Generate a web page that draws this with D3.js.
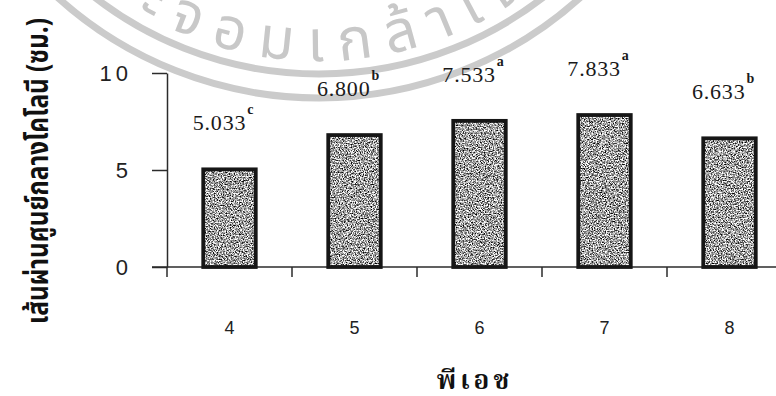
<!DOCTYPE html>
<html>
<head>
<meta charset="utf-8">
<script src="https://cdn.jsdelivr.net/npm/d3@7"></script>
<style>
  html, body { margin: 0; padding: 0; background: #fff; }
  svg { display: block; }
</style>
</head>
<body>
<svg id="chart" width="776" height="396"></svg>
<script>
// Colony diameter by pH
const categories = ["4", "5", "6", "7", "8"];
const diameters = [5.033, 6.800, 7.533, 7.833, 6.633];
const groups = ["c", "b", "a", "a", "b"];
const yTickValues = [0, 5, 10];
const xTitle = "พีเอช";
const yTitle = "เส้นผ่านศูนย์กลางโคโลนี (ซม.)";
const sealText = "พระจอมเกล้าเจ้าคุณทหาร";

const svg = d3.select("#chart");
const plot = { left: 167, right: 792, top: 73, bottom: 267 };

const x = d3.scaleBand()
  .domain(categories)
  .range([plot.left, plot.right])
  .paddingInner(0.58)
  .paddingOuter(0.29);
const y = d3.scaleLinear().domain([0, 10]).range([plot.bottom, plot.top]);

// stippled grey fill for the bars
const defs = svg.append("defs");
const grain = defs.append("filter")
  .attr("id", "grain")
  .attr("color-interpolation-filters", "sRGB")
  .attr("x", 0).attr("y", 0).attr("width", 1).attr("height", 1);
grain.append("feTurbulence")
  .attr("type", "fractalNoise")
  .attr("baseFrequency", 0.76)
  .attr("numOctaves", 2)
  .attr("seed", 7)
  .attr("result", "noise");
grain.append("feColorMatrix")
  .attr("in", "noise")
  .attr("type", "matrix")
  .attr("values", "2.5 0 0 0 -0.62  2.5 0 0 0 -0.62  2.5 0 0 0 -0.62  0 0 0 0 1")
  .attr("result", "grey");
grain.append("feComposite")
  .attr("in", "grey")
  .attr("in2", "SourceGraphic")
  .attr("operator", "in");

// faint seal in the background: two rings and lettering
const seal = { cx: 319, cy: -292 };
const ringRadii = [366, 390];
const sealG = svg.append("g").attr("class", "seal");
sealG.selectAll("circle")
  .data(ringRadii)
  .join("circle")
  .attr("cx", seal.cx).attr("cy", seal.cy).attr("r", d => d)
  .attr("fill", "none")
  .attr("stroke", "#cbcbcb")
  .attr("stroke-width", 7);

const textR = 353;
const pt = a => [seal.cx + textR * Math.sin(a), seal.cy + textR * Math.cos(a)];
const a0 = -60 * Math.PI / 180, a1 = 60 * Math.PI / 180;
const [sx, sy] = pt(a0), [ex, ey] = pt(a1);
defs.append("path")
  .attr("id", "sealPath")
  .attr("d", `M${sx},${sy} A${textR},${textR} 0 0 0 ${ex},${ey}`);
sealG.append("text")
  .attr("font-family", "'Noto Sans Thai', 'Noto Sans', sans-serif")
  .attr("font-size", 58)
  .attr("letter-spacing", 15)
  .attr("fill", "#c8c8c8")
  .append("textPath")
  .attr("href", "#sealPath")
  .attr("startOffset", 80)
  .text(sealText);

// axes
const axisColor = "#2b2b2b";
const gy = svg.append("g")
  .attr("transform", `translate(${plot.left},0)`)
  .call(d3.axisLeft(y).tickValues(yTickValues).tickSize(15).tickSizeOuter(0).tickPadding(20));
gy.select(".domain").attr("stroke", axisColor).attr("stroke-width", 1.5);
gy.selectAll(".tick line").attr("stroke", axisColor).attr("stroke-width", 1.5);
gy.selectAll(".tick text")
  .attr("font-family", "'Arial', 'Liberation Sans', sans-serif")
  .attr("font-size", 22)
  .attr("letter-spacing", 4)
  .attr("dy", "0.36em")
  .attr("fill", "#222");

const gx = svg.append("g")
  .attr("transform", `translate(0,${plot.bottom})`)
  .call(d3.axisBottom(x).tickSize(0).tickPadding(54));
gx.select(".domain").remove();
gx.selectAll(".tick text")
  .attr("font-family", "'Arial', 'Liberation Sans', sans-serif")
  .attr("font-size", 18)
  .attr("fill", "#222");

// baseline and category boundary ticks
svg.append("line")
  .attr("x1", plot.left - 15).attr("x2", 776)
  .attr("y1", plot.bottom).attr("y2", plot.bottom)
  .attr("stroke", axisColor).attr("stroke-width", 1.5);
const halfGap = x.paddingInner() * x.step() / 2;
const bounds = categories.map(c => x(c) - halfGap).concat([x(categories[categories.length - 1]) + x.bandwidth() + halfGap]);
svg.append("g").selectAll("line")
  .data(bounds)
  .join("line")
  .attr("x1", d => d).attr("x2", d => d)
  .attr("y1", plot.bottom).attr("y2", plot.bottom + 10)
  .attr("stroke", axisColor).attr("stroke-width", 1.5);

// bars
const data = categories.map((c, i) => ({ c, v: diameters[i], g: groups[i] }));
const bars = svg.append("g");
bars.selectAll("rect.fill")
  .data(data)
  .join("rect")
  .attr("class", "fill")
  .attr("x", d => x(d.c)).attr("width", x.bandwidth())
  .attr("y", d => y(d.v)).attr("height", d => y(0) - y(d.v))
  .attr("fill", "#999")
  .attr("filter", "url(#grain)");
bars.selectAll("rect.edge")
  .data(data)
  .join("rect")
  .attr("class", "edge")
  .attr("x", d => x(d.c)).attr("width", x.bandwidth())
  .attr("y", d => y(d.v)).attr("height", d => y(0) - y(d.v))
  .attr("fill", "none")
  .attr("stroke", "#161616")
  .attr("stroke-width", 3.8);

// value labels with significance letters
const fmt = d3.format(".3f");
const labels = svg.append("g").selectAll("text")
  .data(data)
  .join("text")
  .attr("x", d => x(d.c) + x.bandwidth() / 2 - 6)
  .attr("y", d => y(d.v) - 39)
  .attr("text-anchor", "middle")
  .attr("font-family", "'Liberation Serif', 'Times New Roman', 'DejaVu Serif', serif")
  .attr("font-size", 22)
  .attr("letter-spacing", 0.8)
  .attr("fill", "#1a1a1a");
labels.append("tspan").text(d => fmt(d.v));
labels.append("tspan")
  .attr("dx", 1)
  .attr("dy", -16)
  .attr("font-size", 14)
  .attr("font-weight", "bold")
  .text(d => d.g);

// axis titles
svg.append("text")
  .attr("x", 475).attr("y", 389)
  .attr("text-anchor", "middle")
  .attr("font-family", "'Noto Serif Thai', 'Noto Sans Thai', serif")
  .attr("font-weight", "bold")
  .attr("font-size", 26)
  .attr("letter-spacing", 4)
  .attr("fill", "#111")
  .text(xTitle);

svg.append("text")
  .attr("transform", "translate(48,171) rotate(-90)")
  .attr("text-anchor", "middle")
  .attr("font-family", "'Noto Sans Thai', sans-serif")
  .attr("font-weight", "bold")
  .attr("font-size", 30)
  .attr("textLength", 306)
  .attr("lengthAdjust", "spacingAndGlyphs")
  .attr("fill", "#111")
  .text(yTitle);
</script>
</body>
</html>
